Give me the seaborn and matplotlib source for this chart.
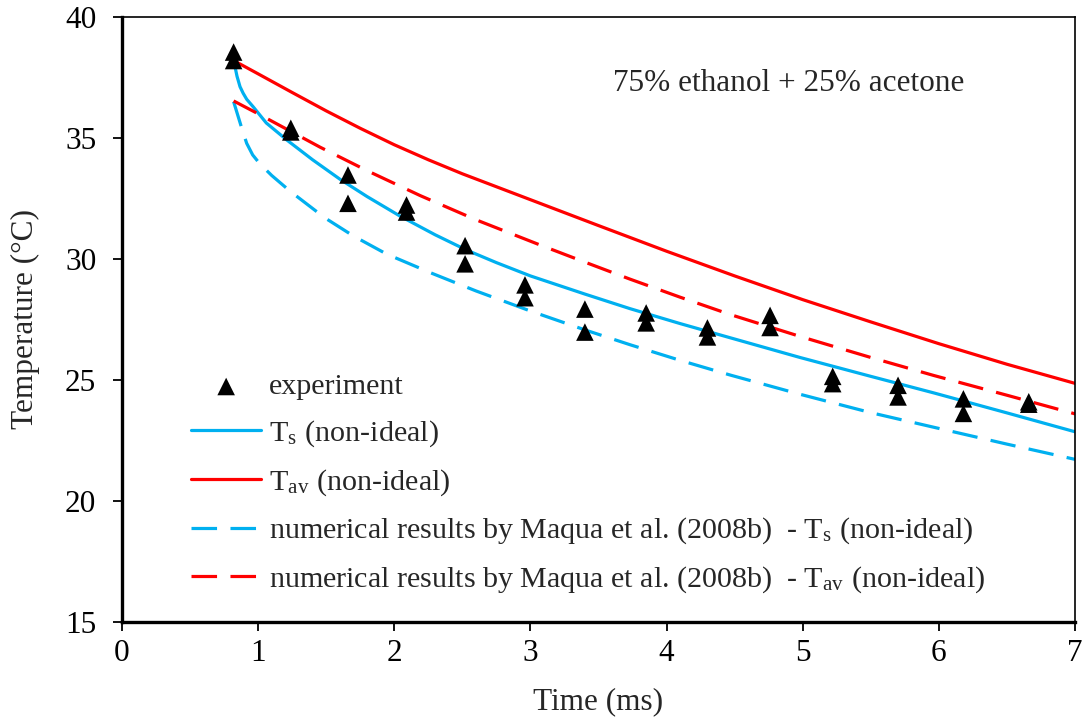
import numpy as np
import pandas as pd
import matplotlib
matplotlib.use("Agg")
import matplotlib.pyplot as plt
import seaborn as sns

# Measured droplet temperatures (two readings per time)
exp_time = [0.82, 0.82, 1.24, 1.24, 1.66, 1.66, 2.09, 2.09, 2.52, 2.52,
            2.96, 2.96, 3.40, 3.40, 3.85, 3.85, 4.30, 4.30, 4.76, 4.76,
            5.22, 5.22, 5.70, 5.70, 6.18, 6.18, 6.66, 6.66]
exp_temp = [38.55, 38.2, 35.4, 35.25, 33.47, 32.3, 32.23, 31.94, 30.55, 29.8,
            28.93, 28.4, 27.93, 26.98, 27.77, 27.36, 27.15, 26.78, 27.67, 27.17,
            25.15, 24.85, 24.78, 24.3, 24.22, 23.62, 24.1, 24.0]

# Surface temperature, non-ideal model
ts_time = [0.82, 0.83, 0.845, 0.867, 0.89, 0.916, 0.965, 1.06, 1.21, 1.40,
           1.60, 1.80, 2.04, 2.30, 2.53, 2.75, 3.0, 3.4, 3.73, 4.1,
           4.47, 4.98, 5.5, 5.96, 6.5, 7.0]
ts_temp = [38.2, 37.95, 37.55, 37.12, 36.85, 36.6, 36.28, 35.62, 34.92, 34.1,
           33.3, 32.58, 31.78, 31.0, 30.37, 29.85, 29.3, 28.55, 27.95, 27.33,
           26.74, 25.93, 25.15, 24.47, 23.64, 22.86]

# Average temperature, non-ideal model
tav_time = [0.82, 1.0, 1.25, 1.5, 1.75, 2.0, 2.25, 2.5, 3.0, 3.5, 4.0, 4.5,
            5.0, 5.5, 6.0, 6.5, 7.0]
tav_temp = [38.2, 37.65, 36.88, 36.12, 35.4, 34.72, 34.1, 33.52, 32.45, 31.38,
            30.32, 29.3, 28.32, 27.4, 26.5, 25.65, 24.86]

# Maqua et al. (2008b): surface temperature
mq_ts_time = [0.82, 0.85, 0.88, 0.916, 0.96, 1.01, 1.1, 1.235, 1.49, 1.70,
              1.945, 2.28, 2.6, 3.0, 3.4, 3.73, 4.1, 4.47, 4.98, 5.5,
              5.96, 6.5, 7.0]
mq_ts_temp = [36.5, 35.95, 35.4, 34.78, 34.3, 33.95, 33.45, 32.8, 31.7, 30.95,
              30.2, 29.4, 28.68, 27.85, 27.07, 26.46, 25.81, 25.2, 24.41, 23.65,
              23.05, 22.35, 21.72]

# Maqua et al. (2008b): average temperature
mq_tav_time = [0.82, 1.0, 1.455, 1.8, 2.19, 2.6, 3.07, 3.4, 3.73, 4.1,
               4.47, 4.98, 5.5, 5.96, 6.5, 7.0]
mq_tav_temp = [36.53, 36.0, 34.62, 33.65, 32.62, 31.62, 30.58, 29.87, 29.17, 28.42,
               27.7, 26.8, 25.93, 25.19, 24.37, 23.6]

x_ticks = [0, 1, 2, 3, 4, 5, 6, 7]
y_ticks = [15, 20, 25, 30, 35, 40]

sns.set_style("ticks")
plt.rcParams["font.family"] = ["Liberation Serif", "DejaVu Serif"]
plt.rcParams["mathtext.fontset"] = "stix"

BLUE = "#00B0F0"
RED = "#FF0000"
FS = 22.5
LEG_FS = 21.6

fig = plt.figure(figsize=(10.88, 7.22), dpi=100)
ax = fig.add_axes([0.1121, 0.1385, 0.876, 0.838])

lw = 2.3
dash = (0, (8, 4.2))
sns.lineplot(x=ts_time, y=ts_temp, ax=ax, color=BLUE, lw=lw,
             label=r"T$_\mathregular{s}$ (non-ideal)")
sns.lineplot(x=tav_time, y=tav_temp, ax=ax, color=RED, lw=lw,
             label=r"T$_\mathregular{av}$ (non-ideal)")
sns.lineplot(x=mq_ts_time, y=mq_ts_temp, ax=ax, color=BLUE, lw=lw, linestyle=dash,
             label=r"numerical results by Maqua et al. (2008b)  - T$_\mathregular{s}$ (non-ideal)")
sns.lineplot(x=mq_tav_time, y=mq_tav_temp, ax=ax, color=RED, lw=lw, linestyle=dash,
             label=r"numerical results by Maqua et al. (2008b)  - T$_\mathregular{av}$ (non-ideal)")
sns.scatterplot(x=exp_time, y=exp_temp, ax=ax, marker="^", s=160, color="black",
                edgecolor="none", label="experiment", zorder=5)

ax.set_xlim(0, 7)
ax.set_ylim(15, 40)
ax.set_xticks(x_ticks)
ax.set_yticks(y_ticks)
ax.tick_params(axis="both", direction="out", length=6.5, width=1.3,
               labelsize=FS, color="black", labelcolor="black")
ax.tick_params(axis="x", pad=6)
ax.tick_params(axis="y", pad=12)
for side in ["left", "bottom"]:
    ax.spines[side].set_linewidth(2.4)
for side in ["top", "right"]:
    ax.spines[side].set_visible(True)
    ax.spines[side].set_linewidth(1.2)
for s in ax.spines.values():
    s.set_color("black")

ax.set_xlabel("Time (ms)", fontsize=FS)
ax.set_ylabel("Temperature (°C)", fontsize=FS)
ax.xaxis.set_label_coords(0.5, -0.108)
ax.yaxis.set_label_coords(-0.086, 0.5)

ax.text(4.9, 37.27, "75% ethanol + 25% acetone", fontsize=FS,
        ha="center", va="center")

handles, labels = ax.get_legend_handles_labels()
order = [4, 0, 1, 2, 3]
ax.legend([handles[i] for i in order], [labels[i] for i in order],
          loc="lower left", bbox_to_anchor=(0.044, 0.0), frameon=False,
          fontsize=LEG_FS, handlelength=2.35, handletextpad=0.25,
          labelspacing=0.6, scatterpoints=1)

fig.savefig("out.png", dpi=100, facecolor="white")
